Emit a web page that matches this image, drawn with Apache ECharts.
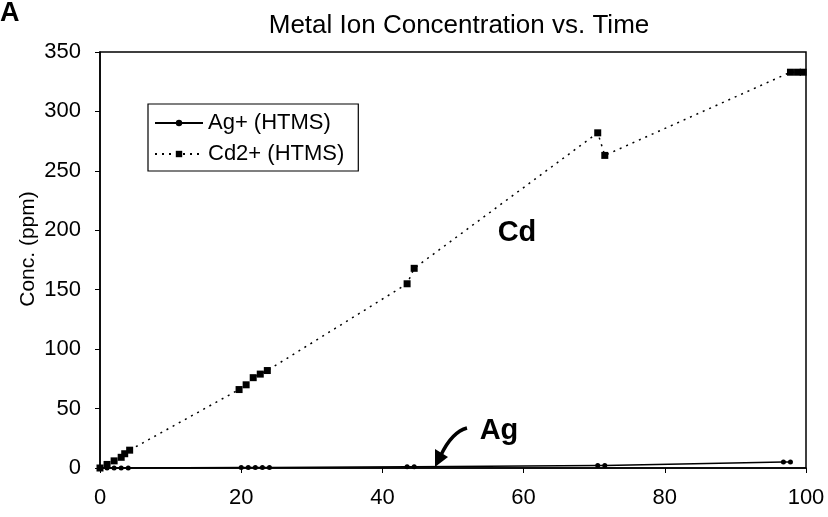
<!DOCTYPE html>
<html>
<head>
<meta charset="utf-8">
<script src="https://cdn.jsdelivr.net/npm/echarts@6/dist/echarts.min.js"></script>
<style>
html,body{margin:0;padding:0;background:#fff;}
#chart{width:828px;height:517px;}
</style>
</head>
<body>
<div id="chart"></div>
<script>
const titleText = 'Metal Ion Concentration vs. Time';
const yAxisName = 'Conc. (ppm)';
const xTicks = [0, 20, 40, 60, 80, 100];
const yTicks = [0, 50, 100, 150, 200, 250, 300, 350];

const agName = 'Ag+ (HTMS)';
const agTime = [0, 1, 2, 3, 4, 20, 21, 22, 23, 24, 43.5, 44.5, 70.5, 71.5, 96.8, 97.8];
const agConc = [0, 0, 0, 0, 0, 0.5, 0.5, 0.5, 0.5, 0.5, 1, 1, 2, 2, 5, 5];

const cdName = 'Cd2+ (HTMS)';
const cdTime = [0, 1, 2, 3, 3.5, 4.2, 19.7, 20.7, 21.7, 22.7, 23.7, 43.5, 44.5, 70.5, 71.5, 97.8, 98.8, 99.6];
const cdConc = [0, 3, 6, 9, 12, 15, 66, 70, 76, 79, 82, 155, 168, 282, 263, 333, 333, 333];

const agData = agTime.map((t, i) => [t, agConc[i]]);
const cdData = cdTime.map((t, i) => [t, cdConc[i]]);

const FONT = '"Liberation Sans", Arial, sans-serif';
const chart = echarts.init(document.getElementById('chart'));
chart.setOption({
  animation: false,
  backgroundColor: '#fff',
  title: {
    text: titleText,
    left: 454, top: 8, textAlign: 'center',
    textStyle: {fontFamily: FONT, fontSize: 26, fontWeight: 'normal', color: '#000'}
  },
  grid: {left: 100, right: 22, top: 52, bottom: 49, show: true, borderColor: '#000', borderWidth: 1.5, backgroundColor: 'transparent'},
  legend: {
    orient: 'vertical', left: 148, top: 104,
    borderColor: '#000', borderWidth: 1.2, padding: [8, 14, 6, 6],
    itemGap: 9, itemWidth: 48, itemHeight: 8,
    textStyle: {fontFamily: FONT, fontSize: 22, color: '#000'},
    data: [agName, cdName]
  },
  xAxis: {
    type: 'value', min: 0, max: 100, interval: 20,
    axisLine: {lineStyle: {color: '#000', width: 1.5}},
    axisTick: {show: true, length: 5, lineStyle: {color: '#000'}},
    splitLine: {show: false},
    axisLabel: {fontFamily: FONT, fontSize: 22, color: '#000', margin: 19,
      formatter: v => xTicks.includes(v) ? String(v) : ''}
  },
  yAxis: {
    type: 'value', min: 0, max: 350, interval: 50,
    axisLine: {show: true, lineStyle: {color: '#000', width: 1.5}},
    axisTick: {show: true, length: 5, lineStyle: {color: '#000'}},
    splitLine: {show: false},
    axisLabel: {fontFamily: FONT, fontSize: 22, color: '#000', margin: 19,
      formatter: v => yTicks.includes(v) ? String(v) : ''}
  },
  series: [
    {
      name: agName, type: 'line', data: agData,
      symbol: 'circle', symbolSize: 5,
      itemStyle: {color: '#000'},
      lineStyle: {color: '#000', width: 1.5, type: 'solid'}
    },
    {
      name: cdName, type: 'line', data: cdData,
      symbol: 'rect', symbolSize: 7,
      itemStyle: {color: '#000'},
      lineStyle: {color: '#000', width: 1.5, type: [2, 5]}
    }
  ],
  graphic: [
    {type: 'text', left: 0, top: 0, style: {text: 'A', font: 'bold 27px ' + FONT, fill: '#000'}},
    {type: 'text', x: 28, y: 249, rotation: Math.PI / 2, style: {text: yAxisName, font: '21px ' + FONT, fill: '#000', align: 'center', verticalAlign: 'middle'}},
    {type: 'text', x: 517, y: 233, style: {text: 'Cd', font: 'bold 29px ' + FONT, fill: '#000', align: 'center', verticalAlign: 'middle'}},
    {type: 'text', x: 499, y: 431, style: {text: 'Ag', font: 'bold 29px ' + FONT, fill: '#000', align: 'center', verticalAlign: 'middle'}},
    {type: 'bezierCurve', shape: {x1: 467, y1: 428, cpx1: 452, cpy1: 432, x2: 441, y2: 455}, style: {stroke: '#000', lineWidth: 3.5, fill: null}},
    {type: 'polygon', shape: {points: [[435, 467], [435, 449], [448, 457]]}, style: {fill: '#000'}}
  ]
});
</script>
</body>
</html>
